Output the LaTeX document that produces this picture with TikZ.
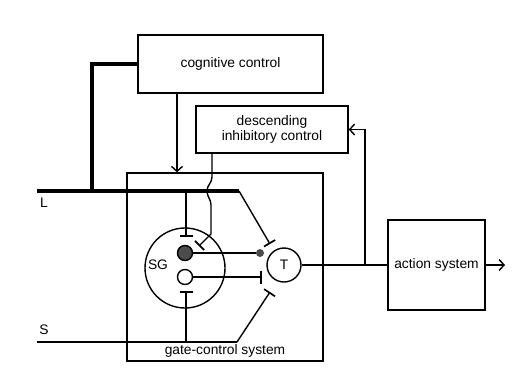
\documentclass[tikz,border=0pt]{standalone}
\usepackage{fontspec}
\setmainfont{Liberation Sans}
\usetikzlibrary{arrows.meta}
\tikzset{
  box/.style={draw, line width=1.4pt, rectangle, inner sep=0pt, font=\fontsize{13.8}{15}\selectfont, align=center},
  ln/.style={line width=1.4pt},
  thk/.style={line width=3.8pt},
  inh/.style={ln, -{Bar[width=13pt, line width=1.7pt]}},
  opn/.style={ln, -{Straight Barb[length=5pt, width=11pt, line width=1.4pt]}},
  lbl/.style={font=\fontsize{13.8}{15}\selectfont, inner sep=0pt},
  cell/.style={circle, draw, line width=1.4pt, inner sep=0pt},
}
\begin{document}
\begin{tikzpicture}[x=1pt, y=-1pt]
\useasboundingbox (0,0) rectangle (514,367);
% boxes
\node[box, minimum width=185pt, minimum height=58pt] (cog) at (230.5,64) {cognitive control};
\node[box, minimum width=152pt, minimum height=47pt] (desc) at (272,129.5) {descending\\inhibitory control};
\node[draw, line width=1.4pt, minimum width=196pt, minimum height=188pt, inner sep=0pt] (gate) at (225,267) {};
\node[box, minimum width=97pt, minimum height=90pt] (action) at (436.5,265) {action system};
\node[lbl] (gatelbl) at (225,351) {gate-control system};
% cells
\node[cell, minimum size=80pt] (SG) at (185,268) {};
\node[lbl] (SGlbl) at (158,265) {SG};
\node[cell, fill=black!70, minimum size=15pt] (fc) at (185,253) {};
\node[cell, minimum size=15pt] (oc) at (185,277) {};
\node[cell, minimum size=34pt, lbl] (T) at (284,265) {T};
\node[circle, fill=black!70, minimum size=8pt, inner sep=0pt] (dot) at (260,253) {};
% L and S lines
\coordinate (Ls) at (37,191);
\coordinate (Le) at (239,191);
\coordinate (Ss) at (37,342);
\coordinate (Se) at (237,342);
\node[lbl] (Llbl) at (44,203) {L};
\node[lbl] (Slbl) at (44,330) {S};
\draw[thk] (Ls) -- (Le);
\draw[thk] (cog.west) -| (92,0 |- Ls);
\draw[ln] (Ss) -- (Se);
% cognitive -> gate
\draw[opn] (177,0 |- cog.south) -- (177,0 |- gate.north);
% descending -> SG
\draw[inh] (212,0 |- desc.south) -- (212,177) .. controls (212,183) and (207,185) .. (207,191) .. controls (207,197) and (211,199) .. (211,205) -- (211,234) -- (199,246);
% L branches
\draw[inh] (186,0 |- Ls) -- (186,237);
\draw[inh] (Le) -- (270,244);
% S branches
\draw[inh] (186,0 |- Ss) -- (186,291);
\draw[inh] (Se) -- (270,292);
% SG -> T
\draw[ln] (fc.east) -- (dot.west);
\draw[inh] (oc.east) -- (262,277);
% T -> action, feedback
\draw[ln] (T.east) -- (action.west);
\draw[opn] (365,0 |- T.east) |- (desc.east);
\draw[opn] (action.east) -- (505,0 |- action.east);
\end{tikzpicture}
\end{document}
